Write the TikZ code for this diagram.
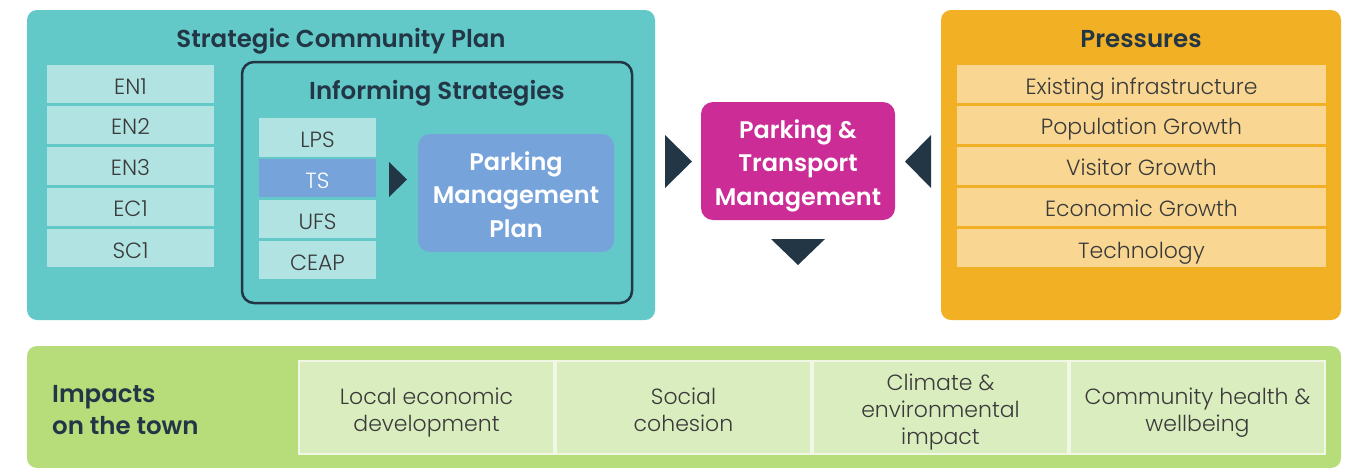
\documentclass[tikz,border=0pt]{standalone}
\usepackage{fontspec}
\setmainfont{Poppins Light}[BoldFont={Poppins SemiBold}]
\definecolor{teal}{HTML}{62C9C8}
\definecolor{tealL}{HTML}{B0E3E1}
\definecolor{navy}{HTML}{233646}
\definecolor{blueM}{HTML}{77A3DB}
\definecolor{pink}{HTML}{CB2C96}
\definecolor{orange}{HTML}{F2B124}
\definecolor{orangeL}{HTML}{F9D792}
\definecolor{green}{HTML}{B7DC7A}
\definecolor{greenL}{HTML}{DAEDBF}
\definecolor{txt}{HTML}{3A3A3A}
\tikzset{
  panel/.style={rounded corners=10pt, draw=none},
  item/.style={draw=none, minimum width=#1, minimum height=38pt, inner sep=0pt, text height=20pt, text depth=0pt, text=txt, font=\fontsize{22}{24}\selectfont},
  ttl/.style={text=navy, font=\bfseries\fontsize{24.5}{26}\selectfont, inner sep=0pt, anchor=base},
  wbold/.style={text=white, font=\bfseries\fontsize{24}{33.5}\selectfont, align=center, inner sep=0pt},
  tri/.style={fill=navy, draw=none},
  cell/.style={fill=greenL, draw=white!60!greenL, line width=1.5pt, minimum width=255pt, minimum height=93pt, inner sep=0pt},
  celltext/.style={text=txt, align=center, inner sep=0pt, font=\fontsize{22}{27}\selectfont}
}
\begin{document}
\begin{tikzpicture}[x=1pt,y=-1pt]
\useasboundingbox (0,0) rectangle (1351,467);
% panels
\fill[teal, panel] (27,10) rectangle (655,320);
\fill[orange, panel] (941,10) rectangle (1341,320);
\fill[green, panel] (27,346) rectangle (1341,468);
% titles
\node[ttl] (scp) at (341,47) {Strategic Community Plan};
\node[ttl] (pres) at (1141,47) {Pressures};
% EN boxes
\foreach \n/\t/\y in {en1/EN1/84, en2/EN2/124.5, en3/EN3/165.5, ec1/EC1/206.5, sc1/SC1/248}
  \node[item=167pt, fill=tealL] (\n) at (130.5,\y) {\t};
% informing strategies
\draw[navy, line width=2.5pt, fill=teal, rounded corners=12pt] (242,62) rectangle (632,303);
\node[ttl] (inf) at (437,99) {Informing Strategies};
\node[item=117pt, fill=tealL, minimum height=39pt] (lps) at (317.5,137.5) {LPS};
\node[item=117pt, fill=blueM, text=white, minimum height=38pt] (ts) at (317.5,178) {TS};
\node[item=117pt, fill=tealL, minimum height=38pt] (ufs) at (317.5,219) {UFS};
\node[item=117pt, fill=tealL, minimum height=38pt] (ceap) at (317.5,260) {CEAP};
\node[fill=blueM, rounded corners=12pt, minimum width=196pt, minimum height=118pt] (pmp) at (516,193) {};
\node[wbold] (pmptext) at ([yshift=-1.5pt]pmp.center) {Parking\\Management\\Plan};
\fill[tri] (389,162) -- (407,179.5) -- (389,197) -- cycle;
% pink
\node[fill=pink, rounded corners=12pt, minimum width=194pt, minimum height=118pt] (ptm) at (798,161) {};
\node[wbold] (ptmtext) at ([yshift=-4.5pt]ptm.center) {Parking \&\\Transport\\Management};
\fill[tri] (665,135) -- (692,161.5) -- (665,188) -- cycle;
\fill[tri] (931,135) -- (905,161.5) -- (931,188) -- cycle;
\fill[tri] (771,239) -- (825,239) -- (798,265) -- cycle;
% pressures
\foreach \n/\t/\y in {p1/Existing infrastructure/84, p2/Population Growth/124.5, p3/Visitor Growth/165.5, p4/Economic Growth/206.5, p5/Technology/248}
  \node[item=369pt, fill=orangeL] (\n) at (1141.5,\y) {\t};
% impacts
\node[text=navy, font=\bfseries\fontsize{24.5}{32}\selectfont, align=left, anchor=west, inner sep=0pt] (imp) at (52,410.5) {Impacts\\on the town};
\node[cell] (c1) at (426.5,407.5) {};
\node[cell] (c2) at (683.5,407.5) {};
\node[cell] (c3) at (940.5,407.5) {};
\node[cell] (c4) at (1197.5,407.5) {};
\node[celltext] (c1t) at ([yshift=-5pt]c1.center) {Local economic\\development};
\node[celltext] (c2t) at ([yshift=-2pt]c2.center) {Social\\cohesion};
\node[celltext] (c3t) at ([yshift=-5pt]c3.center) {Climate \&\\environmental\\impact};
\node[celltext] (c4t) at ([yshift=-5pt]c4.center) {Community health \&\\wellbeing};
\end{tikzpicture}
\end{document}
